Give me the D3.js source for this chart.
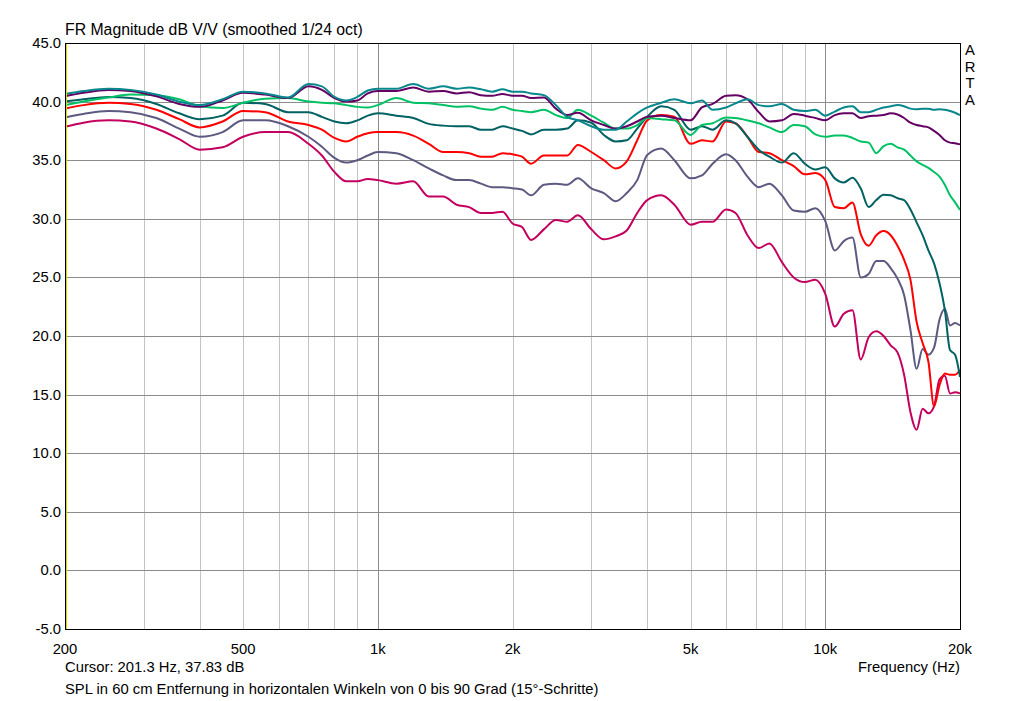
<!DOCTYPE html>
<html>
<head>
<meta charset="utf-8">
<script src="https://cdn.jsdelivr.net/npm/d3@7"></script>
<style>
  body { margin: 0; background: #fff; }
  svg { display: block; font-family: "Liberation Sans", Arial, sans-serif; }
</style>
</head>
<body>
<svg width="1024" height="701"></svg>
<script>
// frequencies (Hz) shared by all curves
const freqs = [200,220,250,280,320,360,400,450,500,560,630,700,750,800,850,900,950,1000,1100,1200,
  1300,1400,1500,1600,1700,1800,1900,2000,2100,2200,2350,2500,2650,2800,3000,3200,3400,3600,3800,4000,
  4300,4600,5000,5300,5600,6000,6300,6700,7100,7500,8000,8500,9000,9500,10000,10500,11000,11500,12000,12500,
  13000,13500,14000,14500,15000,15500,16000,16500,17000,17500,18000,18500,19000,19500,20000]

// dB values per angle
const teal = [40.65,40.9,41.1,41.0,40.6,40.0,39.7,40.2,40.85,40.7,40.35,41.5,41.3,40.4,40.1,40.4,40.95,41.1,41.1,41.5,
  41.1,41.3,41.1,41.2,41.05,40.85,41.05,40.85,40.85,40.7,40.55,39.7,38.7,38.4,37.9,37.6,37.6,38.3,39.0,39.5,
  39.9,40.2,39.85,40.1,39.3,39.5,39.85,40.2,39.7,39.6,39.8,39.3,39.2,39.3,38.8,39.15,39.5,39.6,39.1,39.1,
  39.3,39.5,39.6,39.7,39.6,39.4,39.35,39.4,39.4,39.3,39.35,39.3,39.2,39.05,38.85]
const purple = [40.45,40.75,41.0,40.9,40.45,39.8,39.55,40.1,40.75,40.6,40.3,41.3,41.0,40.3,40.0,40.1,40.7,40.9,40.9,41.2,
  40.85,40.9,40.7,40.8,40.55,40.5,40.65,40.5,40.5,40.3,40.35,39.4,38.85,39.05,38.4,38.0,37.7,37.9,38.3,38.7,
  38.8,38.6,38.4,39.5,39.8,40.5,40.55,40.2,39.1,38.3,38.4,38.95,38.8,38.6,38.4,38.85,39.0,39.0,38.6,38.75,
  38.8,38.85,39.0,38.9,38.6,38.2,38.0,37.9,37.8,37.5,37.15,36.7,36.5,36.45,36.35]
const green = [39.7,40.0,40.35,40.6,40.55,40.2,39.6,39.45,39.9,40.25,40.3,40.0,39.9,39.85,39.7,39.55,39.5,39.7,40.3,39.9,
  39.85,39.7,39.55,39.6,39.4,39.3,39.55,39.3,39.2,39.1,39.3,38.85,38.6,39.3,38.8,38.2,37.7,37.7,38.0,38.6,
  38.5,38.4,37.15,38.0,38.15,38.65,38.6,38.4,38.15,37.8,37.4,38.0,37.9,37.2,37.0,37.1,37.1,36.9,36.6,36.5,
  35.6,36.2,36.4,36.1,35.9,35.4,34.9,34.6,34.35,34.0,33.6,32.9,32.0,31.4,30.75]
const darkTeal = [40.0,40.2,40.4,40.3,39.8,39.0,38.5,38.8,39.9,39.8,39.1,39.1,38.7,38.3,38.15,38.4,38.8,39.0,38.8,38.6,
  38.1,37.95,37.9,37.9,37.6,37.6,37.9,37.7,37.5,37.2,37.6,37.6,37.7,38.4,38.2,37.15,36.6,36.7,37.7,38.7,
  39.6,39.3,37.6,37.9,37.6,38.4,38.15,37.0,35.9,35.3,34.8,35.6,34.7,34.2,34.4,33.45,33.1,33.5,32.6,31.0,
  31.6,32.05,32.0,31.75,31.6,30.8,29.7,28.6,27.3,26.2,24.5,22.2,18.8,18.4,16.5]
const red = [39.4,39.7,39.9,39.8,39.3,38.5,37.8,38.3,39.2,39.1,38.3,38.0,37.6,36.9,36.6,37.0,37.3,37.4,37.4,37.1,
  36.4,35.7,35.7,35.6,35.3,35.3,35.6,35.5,35.3,34.7,35.4,35.4,35.4,36.3,35.7,35.0,34.3,34.9,36.7,38.4,
  38.85,38.7,36.4,36.7,36.6,38.3,38.15,37.0,35.7,35.6,35.0,34.5,33.8,33.9,33.3,31.0,30.9,31.4,28.7,27.7,
  28.6,28.95,28.6,27.7,26.5,24.8,21.2,19.4,17.8,14.0,15.8,16.8,16.7,16.7,17.1]
const gray = [38.65,38.95,39.2,39.1,38.6,37.7,37.0,37.4,38.4,38.4,37.9,37.0,36.15,35.2,34.8,35.0,35.4,35.7,35.6,35.0,
  34.3,33.7,33.3,33.3,33.0,32.7,32.7,32.6,32.5,32.0,32.9,33.0,32.9,33.45,32.6,32.2,31.5,32.2,33.3,35.45,
  36.0,35.0,33.45,33.7,34.7,35.5,35.0,33.6,32.7,33.0,32.0,30.7,30.6,30.9,29.8,27.3,28.1,28.4,25.0,25.3,
  26.4,26.4,25.8,24.9,23.5,20.5,17.2,18.9,18.4,19.0,21.4,22.3,20.9,21.1,20.9]
const magenta = [37.85,38.2,38.4,38.3,37.7,36.8,35.9,36.1,37.0,37.4,37.4,36.4,35.4,34.0,33.2,33.2,33.4,33.3,33.0,33.2,
  31.9,31.9,31.2,31.0,30.5,30.5,30.6,29.6,29.3,28.2,29.1,29.9,29.75,30.3,29.1,28.25,28.5,29.0,30.5,31.6,
  32.0,31.2,29.5,29.75,29.75,30.8,30.5,28.6,27.5,27.9,26.3,25.0,24.6,24.8,23.6,20.8,21.9,22.2,18.0,19.9,
  20.4,20.0,19.2,18.6,16.7,13.5,12.0,13.8,13.4,14.0,16.3,16.6,15.1,15.2,15.1]

const series = [
  {name:"90", values: magenta, color:"#c4005e"},
  {name:"75", values: gray, color:"#5c5a80"},
  {name:"60", values: red, color:"#ff0000"},
  {name:"45", values: darkTeal, color:"#006262"},
  {name:"30", values: green, color:"#00c264"},
  {name:"15", values: purple, color:"#640064"},
  {name:"0", values: teal, color:"#08878c"}
]

const yTicks = d3.range(-5, 45.1, 5)
const xLabels = [200,500,1000,2000,5000,10000,20000]
const xMinor = [300,400,500,600,700,800,900,2000,3000,4000,5000,6000,7000,8000,9000]
const xMajor = [1000,10000]
const cursorFreq = 201.3

const svg = d3.select('svg')
const plotL = 65, plotR = 960, plotT = 43, plotB = 629
const fs = '14.8px'

const x = d3.scaleLog().domain([200,20000]).range([plotL,plotR])
const y = d3.scaleLinear().domain([-5,45]).range([plotB,plotT])

// grid
svg.append('g').selectAll('line')
  .data(xMinor)
  .join('line')
  .attr('x1',d=>Math.round(x(d))+0.5).attr('x2',d=>Math.round(x(d))+0.5)
  .attr('y1',plotT).attr('y2',plotB)
  .style('stroke','#c4c4c4')

svg.append('g').selectAll('line')
  .data(yTicks.filter(d=>d>-5 && d<45))
  .join('line')
  .attr('x1',plotL).attr('x2',plotR)
  .attr('y1',d=>Math.round(y(d))+0.5).attr('y2',d=>Math.round(y(d))+0.5)
  .style('stroke','#8c8c8c')

svg.append('g').selectAll('line')
  .data(xMajor)
  .join('line')
  .attr('x1',d=>Math.round(x(d))+0.5).attr('x2',d=>Math.round(x(d))+0.5)
  .attr('y1',plotT).attr('y2',plotB)
  .style('stroke','#8c8c8c')

// curves
const line = d3.line()
  .x((d,i)=>x(freqs[i]))
  .y(d=>y(d))
  .curve(d3.curveMonotoneX)

svg.append('g').selectAll('path')
  .data(series)
  .join('path')
  .attr('d',d=>line(d.values))
  .style('fill','none')
  .style('stroke',d=>d.color)
  .style('stroke-width',2)

// cursor
svg.append('line')
  .attr('x1',x(cursorFreq)).attr('x2',x(cursorFreq))
  .attr('y1',plotT).attr('y2',plotB)
  .style('stroke','#d8d800')
  .style('stroke-width',1.5)

// frame
svg.append('rect')
  .attr('x',plotL+0.5).attr('y',plotT+0.5)
  .attr('width',plotR-plotL).attr('height',plotB-plotT)
  .style('fill','none').style('stroke','#000')

// y labels
svg.append('g').selectAll('text')
  .data(yTicks)
  .join('text')
  .attr('x',plotL-4).attr('y',d=>y(d)+5)
  .attr('text-anchor','end')
  .style('font-size',fs)
  .text(d=>d.toFixed(1))

// x labels
const fmtF = d=> d>=1000 ? (d/1000)+"k" : d
svg.append('g').selectAll('text')
  .data(xLabels)
  .join('text')
  .attr('x',d=>x(d)).attr('y',plotB+25)
  .attr('text-anchor','middle')
  .style('font-size',fs)
  .text(fmtF)

svg.append('text').attr('x',plotL).attr('y',plotT-8)
  .style('font-size','15.8px')
  .text('FR Magnitude dB V/V (smoothed 1/24 oct)')

svg.append('text').attr('x',plotL).attr('y',plotB+43)
  .style('font-size',fs)
  .text('Cursor: 201.3 Hz, 37.83 dB')

svg.append('text').attr('x',plotR).attr('y',plotB+43)
  .attr('text-anchor','end')
  .style('font-size',fs)
  .text('Frequency (Hz)')

svg.append('text').attr('x',plotL).attr('y',plotB+65)
  .style('font-size',fs)
  .text('SPL in 60 cm Entfernung in horizontalen Winkeln von 0 bis 90 Grad (15°-Schritte)')

svg.append('g').selectAll('text')
  .data(['A','R','T','A'])
  .join('text')
  .attr('x',plotR+10).attr('y',(d,i)=>plotT+12+i*16.5)
  .attr('text-anchor','middle')
  .style('font-size',fs)
  .text(d=>d)
</script>
</body>
</html>
